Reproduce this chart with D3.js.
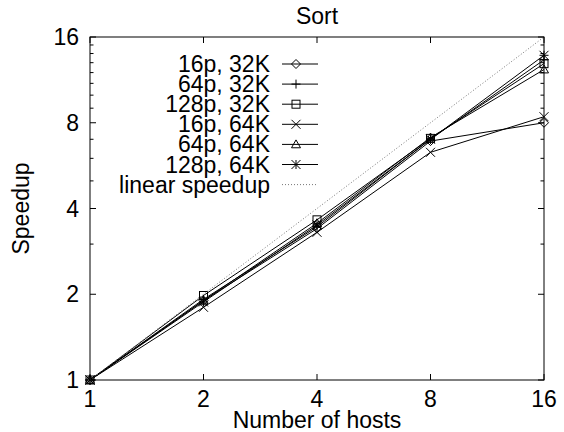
<!DOCTYPE html>
<html>
<head>
<meta charset="utf-8">
<script src="https://cdn.jsdelivr.net/npm/d3@7"></script>
<style>
  body { margin: 0; background: #fff; }
  text { font-family: "Liberation Sans", Arial, sans-serif; fill: #000; }
</style>
</head>
<body>
<div id="chart"></div>
<script>
// number of hosts (x) and speedup per configuration (y)
var hosts = [1, 2, 4, 8, 16];
var seriesNames = ["16p, 32K", "64p, 32K", "128p, 32K", "16p, 64K", "64p, 64K", "128p, 64K"];
var speed16p32k = [1, 1.90, 3.40, 6.90, 8.00];
var speed64p32k = [1, 1.92, 3.45, 7.00, 13.3];
var speed128p32k = [1, 1.98, 3.65, 7.05, 12.9];
var speed16p64k = [1, 1.80, 3.30, 6.30, 8.40];
var speed64p64k = [1, 1.90, 3.55, 7.10, 12.3];
var speed128p64k = [1, 1.88, 3.50, 7.00, 13.8];
var symbols = ["diamond", "plus", "square", "cross", "triangle", "star"];
var yTicks = [1, 2, 4, 8, 16];
var yMinorTicks = [3, 5, 6, 7, 9, 10, 11, 12, 13, 14, 15];

var allSeries = [speed16p32k, speed64p32k, speed128p32k, speed16p64k, speed64p64k, speed128p64k];

var width = 564, height = 432;
var margin = {left: 90, right: 20, top: 37, bottom: 52};
var fontSize = 23;

var svg = d3.select("#chart")
    .append("svg")
    .attr("width", width)
    .attr("height", height);

var x = d3.scaleLog().base(2)
    .domain([1, 16])
    .range([margin.left, width - margin.right]);

var y = d3.scaleLog().base(2)
    .domain([1, 16])
    .range([height - margin.bottom, margin.top]);

var x0 = x.range()[0], x1 = x.range()[1];
var y0 = y.range()[0], y1 = y.range()[1];

// ticks (pointing inward, mirrored)
var ticks = svg.append("g").attr("stroke", "#000").attr("stroke-width", 1);

hosts.forEach(function (h) {
    ticks.append("line").attr("x1", x(h)).attr("x2", x(h)).attr("y1", y0).attr("y2", y0 - 6);
    ticks.append("line").attr("x1", x(h)).attr("x2", x(h)).attr("y1", y1).attr("y2", y1 + 6);
});
yTicks.forEach(function (v) {
    ticks.append("line").attr("x1", x0).attr("x2", x0 + 6).attr("y1", y(v)).attr("y2", y(v));
    ticks.append("line").attr("x1", x1).attr("x2", x1 - 6).attr("y1", y(v)).attr("y2", y(v));
});
yMinorTicks.forEach(function (v) {
    ticks.append("line").attr("x1", x0).attr("x2", x0 + 3.5).attr("y1", y(v)).attr("y2", y(v));
    ticks.append("line").attr("x1", x1).attr("x2", x1 - 3.5).attr("y1", y(v)).attr("y2", y(v));
});

// tick labels
svg.append("g").selectAll("text")
    .data(hosts)
    .enter()
    .append("text")
    .attr("x", function (d) { return x(d); })
    .attr("y", y0 + 27)
    .attr("text-anchor", "middle")
    .style("font-size", fontSize + "px")
    .text(function (d) { return d; });

svg.append("g").selectAll("text")
    .data(yTicks)
    .enter()
    .append("text")
    .attr("x", x0 - 11)
    .attr("y", function (d) { return y(d) + 8; })
    .attr("text-anchor", "end")
    .style("font-size", fontSize + "px")
    .text(function (d) { return d; });

// axis titles
svg.append("text")
    .attr("x", (x0 + x1) / 2)
    .attr("y", 428)
    .attr("text-anchor", "middle")
    .style("font-size", fontSize + "px")
    .text("Number of hosts");

svg.append("text")
    .attr("transform", "translate(29," + ((y0 + y1) / 2) + ") rotate(-90)")
    .attr("text-anchor", "middle")
    .style("font-size", fontSize + "px")
    .text("Speedup");

svg.append("text")
    .attr("x", (x0 + x1) / 2)
    .attr("y", 24)
    .attr("text-anchor", "middle")
    .style("font-size", fontSize + "px")
    .text("Sort");

// point symbols
function drawSymbol(g, type, cx, cy) {
    var s = 4.5;
    if (type == "diamond") {
        g.append("path").attr("d", "M" + (cx - s) + "," + cy + "L" + cx + "," + (cy - s) + "L" + (cx + s) + "," + cy + "L" + cx + "," + (cy + s) + "Z");
    } else if (type == "plus") {
        g.append("path").attr("d", "M" + (cx - s) + "," + cy + "H" + (cx + s) + "M" + cx + "," + (cy - s) + "V" + (cy + s));
    } else if (type == "square") {
        g.append("rect").attr("x", cx - 4).attr("y", cy - 4).attr("width", 8).attr("height", 8);
    } else if (type == "cross") {
        g.append("path").attr("d", "M" + (cx - s) + "," + (cy - s) + "L" + (cx + s) + "," + (cy + s) + "M" + (cx - s) + "," + (cy + s) + "L" + (cx + s) + "," + (cy - s));
    } else if (type == "triangle") {
        g.append("path").attr("d", "M" + cx + "," + (cy - s) + "L" + (cx + s) + "," + (cy + s * 0.75) + "L" + (cx - s) + "," + (cy + s * 0.75) + "Z");
    } else if (type == "star") {
        g.append("path").attr("d", "M" + (cx - s) + "," + cy + "H" + (cx + s) + "M" + cx + "," + (cy - s) + "V" + (cy + s) +
            "M" + (cx - s) + "," + (cy - s) + "L" + (cx + s) + "," + (cy + s) + "M" + (cx - s) + "," + (cy + s) + "L" + (cx + s) + "," + (cy - s));
    }
}

var line = d3.line()
    .x(function (d, i) { return x(hosts[i]); })
    .y(function (d) { return y(d); });

var plot = svg.append("g")
    .attr("fill", "none")
    .attr("stroke", "#000")
    .attr("stroke-width", 1);

allSeries.forEach(function (vals, k) {
    plot.append("path").attr("d", line(vals));
    var pts = plot.append("g");
    vals.forEach(function (v, i) {
        drawSymbol(pts, symbols[k], x(hosts[i]), y(v));
    });
});

// linear speedup
plot.append("path")
    .attr("d", line(hosts))
    .attr("stroke", "#777")
    .attr("stroke-dasharray", "1,2");

// legend
var legendTop = 64, legendStep = 20.1;
var legend = svg.append("g");
seriesNames.concat(["linear speedup"]).forEach(function (name, k) {
    var ly = legendTop + k * legendStep;
    legend.append("text")
        .attr("x", 270)
        .attr("y", ly + 8)
        .attr("text-anchor", "end")
        .style("font-size", fontSize + "px")
        .text(name);
    var lg = legend.append("g").attr("fill", "none").attr("stroke", k < 6 ? "#000" : "#777").attr("stroke-width", 1);
    var ln = lg.append("line").attr("x1", 282).attr("x2", 318).attr("y1", ly).attr("y2", ly);
    if (k < 6) {
        drawSymbol(lg, symbols[k], 296, ly);
    } else {
        ln.attr("stroke-dasharray", "1,2");
    }
});

// border
svg.append("rect")
    .attr("x", x0).attr("y", y1)
    .attr("width", x1 - x0).attr("height", y0 - y1)
    .attr("fill", "none")
    .attr("stroke", "#000")
    .attr("stroke-width", 1);
</script>
</body>
</html>
